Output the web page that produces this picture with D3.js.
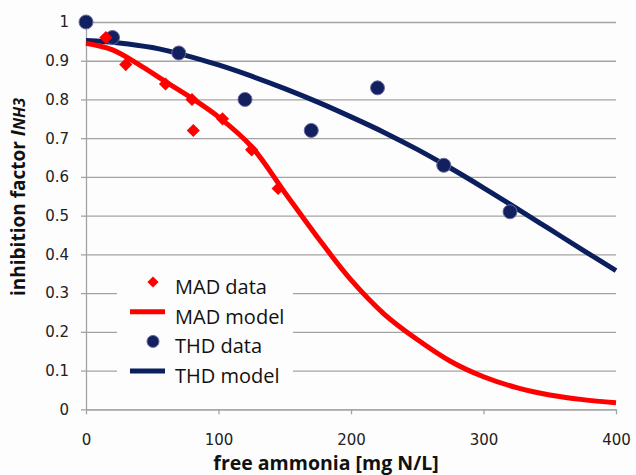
<!DOCTYPE html>
<html>
<head>
<meta charset="utf-8">
<script src="https://cdn.jsdelivr.net/npm/d3@7"></script>
<style>
  body { margin: 0; background: #fdfdfd; }
  svg { display: block; }
</style>
</head>
<body>
<svg id="chart" width="636" height="475"></svg>
<script>
// measured data (free ammonia in mg N/L, inhibition factor)
var madDataX = [15, 30, 60, 80, 81, 103, 125, 145];
var madDataY = [0.96, 0.89, 0.84, 0.80, 0.72, 0.75, 0.67, 0.57];

var thdDataX = [0, 20, 70, 120, 170, 220, 270, 320];
var thdDataY = [1.0, 0.96, 0.92, 0.80, 0.72, 0.83, 0.63, 0.51];

// model curves
var madModelX = [0, 20, 40, 60, 80, 100, 125, 150, 175, 200, 225, 250, 275, 300, 325, 350, 375, 400];
var madModelY = [0.945, 0.928, 0.89, 0.846, 0.803, 0.755, 0.678, 0.56, 0.443, 0.334, 0.246, 0.18, 0.124, 0.084, 0.056, 0.037, 0.025, 0.017];

var thdModelX = [0, 25, 50, 75, 100, 125, 150, 175, 200, 225, 250, 275, 300, 325, 350, 375, 400];
var thdModelY = [0.952, 0.946, 0.934, 0.914, 0.889, 0.86, 0.828, 0.793, 0.755, 0.715, 0.671, 0.623, 0.572, 0.519, 0.465, 0.411, 0.358];

var xTicks = [0, 100, 200, 300, 400];
var yTicks = [0, 0.1, 0.2, 0.3, 0.4, 0.5, 0.6, 0.7, 0.8, 0.9, 1];

var legendNames = ["MAD data", "MAD model", "THD data", "THD model"];
var legendKinds = ["diamond", "line", "circle", "line"];

var red = "#ff0000";
var navy = "#0b1f5f";
var gridColor = "#a3a3a3";

var margin = {left: 86, right: 20, top: 22, bottom: 65.7};

function zip(xs, ys){
  return xs.map(function(v, i){ return {x: v, y: ys[i]}; });
}

function drawChart(){
  var svg = d3.select("#chart");
  var width = 636 - margin.left - margin.right,
      height = 475 - margin.top - margin.bottom;

  var x = d3.scaleLinear().domain([0, 400]).range([0, width]),
      y = d3.scaleLinear().domain([0, 1]).range([height, 0]);

  var g = svg.append("g")
    .attr("transform", "translate(" + margin.left + "," + margin.top + ")");

  //Gridlines
  g.append("g")
    .call(d3.axisLeft(y).tickValues(yTicks).tickSize(-width).tickFormat(""))
    .call(function(s){ s.select(".domain").remove(); })
    .selectAll("line")
      .style("stroke", gridColor)
      .style("stroke-width", "1.3");

  //Y axis
  g.append("g")
    .call(d3.axisLeft(y).tickValues(yTicks).tickSizeInner(5).tickSizeOuter(0).tickPadding(12)
      .tickFormat(function(d){ return d === 0 || d === 1 ? d : d3.format(".1f")(d); }))
    .call(function(s){
      s.select(".domain").style("stroke", gridColor).style("stroke-width", "1.3");
      s.selectAll("line").style("stroke", gridColor).style("stroke-width", "1.3");
      s.selectAll("text")
        .style("font-family", "DejaVu Sans")
        .style("font-size", "15px")
        .style("fill", "#222");
    });

  //X axis
  g.append("g")
    .attr("transform", "translate(0," + height + ")")
    .call(d3.axisBottom(x).tickValues(xTicks).tickSizeInner(5).tickSizeOuter(0).tickPadding(20))
    .call(function(s){
      s.select(".domain").style("stroke", gridColor).style("stroke-width", "1.3");
      s.selectAll("line").style("stroke", gridColor).style("stroke-width", "1.3");
      s.selectAll("text")
        .style("font-family", "DejaVu Sans")
        .style("font-size", "15px")
        .style("fill", "#222");
    });

  //Legend box (hides gridlines behind it)
  var legend = svg.append("g").attr("transform", "translate(117,262)");
  legend.append("rect")
    .attr("width", 176)
    .attr("height", 133)
    .style("fill", "#fdfdfd");

  //Model curves
  var line = d3.line()
    .x(function(d){ return x(d.x); })
    .y(function(d){ return y(d.y); })
    .curve(d3.curveCatmullRom);

  g.append("path")
    .datum(zip(thdModelX, thdModelY))
    .style("fill", "none")
    .style("stroke", navy)
    .style("stroke-width", "5px")
    .attr("d", line);

  g.append("path")
    .datum(zip(madModelX, madModelY))
    .style("fill", "none")
    .style("stroke", red)
    .style("stroke-width", "5px")
    .attr("d", line);

  //Data markers
  var diamond = d3.symbol().type(d3.symbolDiamond2).size(110);

  g.selectAll(".thd")
    .data(zip(thdDataX, thdDataY))
    .enter().append("circle")
      .attr("class", "thd")
      .attr("cx", function(d){ return x(d.x); })
      .attr("cy", function(d){ return y(d.y); })
      .attr("r", 7)
      .style("fill", "#13205f")
      .style("stroke", "#6a6a9e")
      .style("stroke-width", "1");

  g.selectAll(".mad")
    .data(zip(madDataX, madDataY))
    .enter().append("path")
      .attr("class", "mad")
      .attr("transform", function(d){ return "translate(" + x(d.x) + "," + y(d.y) + ")"; })
      .attr("d", diamond)
      .style("fill", red);

  //Legend entries
  var rows = legend.selectAll(".entry")
    .data(legendNames)
    .enter().append("g")
      .attr("class", "entry")
      .attr("transform", function(d, i){ return "translate(0," + (32 + i * 29.7) + ")"; });

  rows.each(function(d, i){
    var row = d3.select(this);
    var color = i < 2 ? red : navy;
    if(legendKinds[i] == "line"){
      row.append("line")
        .attr("x1", 13).attr("x2", 48)
        .attr("y1", -12).attr("y2", -12)
        .style("stroke", color)
        .style("stroke-width", "5px");
    } else if(legendKinds[i] == "diamond"){
      row.append("path")
        .attr("transform", "translate(36,-12)")
        .attr("d", d3.symbol().type(d3.symbolDiamond2).size(80))
        .style("fill", color);
    } else {
      row.append("circle")
        .attr("cx", 36).attr("cy", -12).attr("r", 6)
        .style("fill", "#13205f")
        .style("stroke", "#6a6a9e");
    }
    row.append("text")
      .attr("x", 58)
      .style("font-family", "Open Sans")
      .style("font-size", "20px")
      .style("fill", "#111")
      .text(d);
  });

  //Label for Y axis
  var yLabel = svg.append("text")
    .attr("transform", "translate(25,197) rotate(-90)")
    .style("text-anchor", "middle")
    .style("font-family", "Open Sans")
    .style("font-weight", "bold")
    .style("font-size", "19px")
    .style("fill", "#111");
  yLabel.append("tspan").text("inhibition factor ");
  yLabel.append("tspan").style("font-style", "italic").text("I");
  yLabel.append("tspan").style("font-style", "italic").style("font-size", "16px").text("NH3");

  //Label for X axis
  svg.append("text")
    .attr("x", 326)
    .attr("y", 470)
    .style("text-anchor", "middle")
    .style("font-family", "Open Sans")
    .style("font-weight", "bold")
    .style("font-size", "19.5px")
    .style("fill", "#111")
    .text("free ammonia [mg N/L]");
}

drawChart();
</script>
</body>
</html>
